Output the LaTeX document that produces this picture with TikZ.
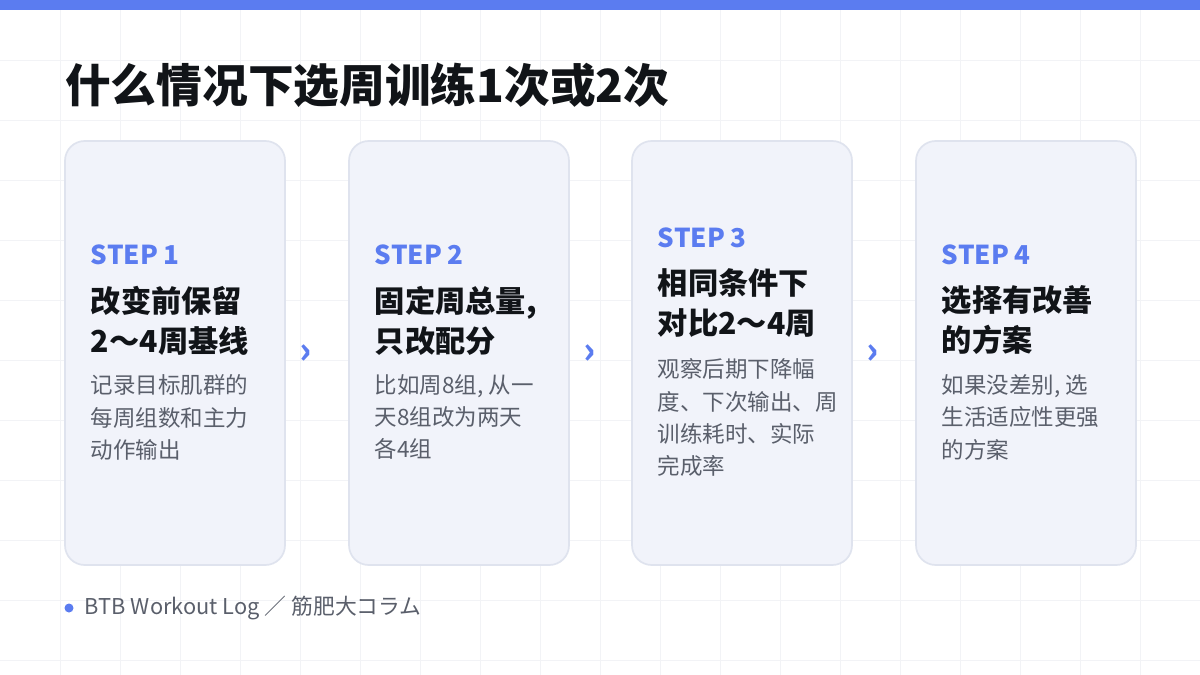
\documentclass[tikz,border=0pt]{standalone}
\usepackage{fontspec}
\setmainfont{Noto Sans CJK SC}
\usetikzlibrary{positioning}
\definecolor{accent}{HTML}{5B7CF0}
\definecolor{cardfill}{HTML}{F1F3FA}
\definecolor{carddraw}{HTML}{DFE3EE}
\definecolor{ink}{HTML}{111418}
\definecolor{muted}{HTML}{5A5F6B}
\definecolor{gridc}{HTML}{F2F3F6}
\tikzset{
  card/.style={draw=carddraw, line width=1.2pt, fill=cardfill, rounded corners=14pt},
  steplabel/.style={anchor=west, text=accent, font=\fontsize{18.5}{20}\selectfont\bfseries},
  head/.style={anchor=north west, text=ink, align=left, font=\fontsize{21.5}{28.5}\selectfont\bfseries},
  body/.style={anchor=north west, text=muted, align=left, font=\fontsize{16}{22.8}\selectfont},
  chev/.style={text=accent, font=\fontsize{26}{26}\selectfont\bfseries}
}
\begin{document}
\begin{tikzpicture}[x=0.025cm, y=-0.025cm]
\useasboundingbox (0,0) rectangle (1200,675);
\fill[white] (0,0) rectangle (1200,675);
\foreach \g in {60,120,...,1140} \draw[gridc, line width=0.6pt] (\g,10) -- (\g,675);
\foreach \g in {60,120,...,660} \draw[gridc, line width=0.6pt] (0,\g) -- (1200,\g);
\fill[accent] (0,0) rectangle (1200,10);
\node[anchor=base west, text=ink, inner sep=0, font=\fontsize{32.5}{34}\selectfont\bfseries] (title) at (65,103) {什么情况下选周训练1次或2次};
% cards
\foreach \i/\x in {1/65,2/349,3/632,4/916}
  \draw[card] (\x,141) rectangle ++(220,424);
\node[steplabel] (s1) at (86,255) {STEP 1};
\node[head] (h1) at (86,281) {改变前保留\\2～4周基线};
\node[body] (b1) at (86,370) {记录目标肌群的\\每周组数和主力\\动作输出};
\node[steplabel] (s2) at (370,255) {STEP 2};
\node[head] (h2) at (370,281) {固定周总量,\\只改配分};
\node[body] (b2) at (370,370) {比如周8组, 从一\\天8组改为两天\\各4组};
\node[steplabel] (s3) at (653,238) {STEP 3};
\node[head] (h3) at (653,264) {相同条件下\\对比2～4周};
\node[body] (b3) at (653,354) {观察后期下降幅\\度、下次输出、周\\训练耗时、实际\\完成率};
\node[steplabel] (s4) at (937,255) {STEP 4};
\node[head] (h4) at (937,281) {选择有改善\\的方案};
\node[body] (b4) at (937,370) {如果没差别, 选\\生活适应性更强\\的方案};
\foreach \x in {306,590,873} \node[chev] at (\x,354) {›};
% footer
\fill[accent] (69,608) circle (4.5);
\node[anchor=west, text=muted, font=\fontsize{15.5}{17}\selectfont] (foot) at (80,608) {BTB Workout Log ／ 筋肥大コラム};
\end{tikzpicture}
\end{document}
